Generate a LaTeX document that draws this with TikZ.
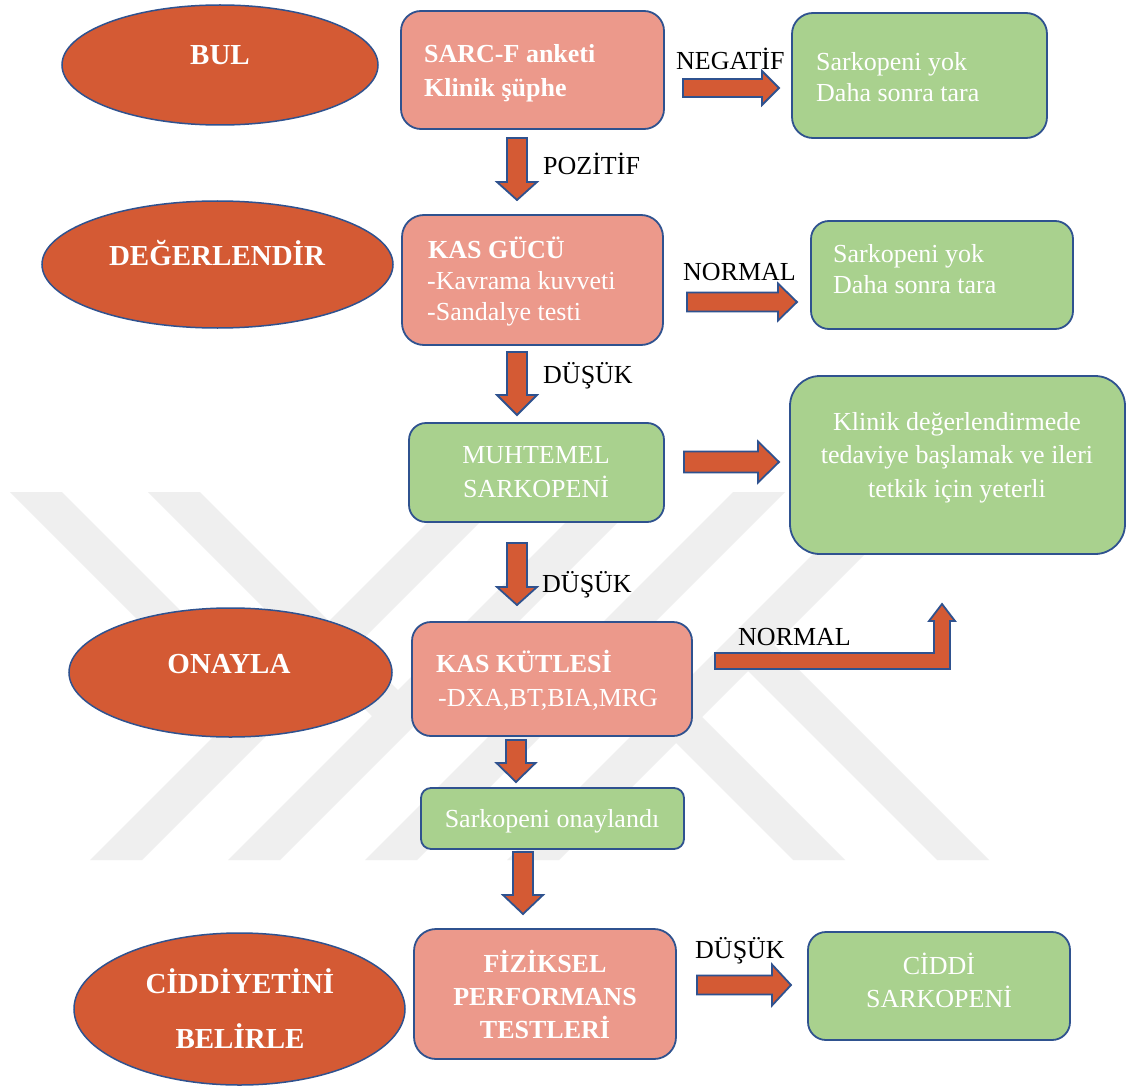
\documentclass[tikz,border=0pt]{standalone}
\usepackage{fontspec}
\setmainfont{Liberation Serif}
\usetikzlibrary{shapes.geometric}
\definecolor{orangec}{RGB}{212,90,52}
\definecolor{salmon}{RGB}{236,153,139}
\definecolor{greenc}{RGB}{169,209,142}
\definecolor{bordc}{RGB}{47,82,143}
\definecolor{wmgray}{RGB}{239,239,239}
\newcommand\darr[6]{% x, y start, y tip, half shaft, half head, head length
 \filldraw[barrow] (#1-#4,#2) -- (#1+#4,#2) -- (#1+#4,#3-#6) -- (#1+#5,#3-#6) -- (#1,#3) -- (#1-#5,#3-#6) -- (#1-#4,#3-#6) -- cycle;}
\newcommand\rarr[6]{% y, x start, x tip, half shaft, half head, head length
 \filldraw[barrow] (#2,#1-#4) -- (#3-#6,#1-#4) -- (#3-#6,#1-#5) -- (#3,#1) -- (#3-#6,#1+#5) -- (#3-#6,#1+#4) -- (#2,#1+#4) -- cycle;}
\tikzset{
 box/.style={draw=bordc, line width=1.8pt, inner sep=0pt},
 pinkbox/.style={box, fill=salmon},
 greenbox/.style={box, fill=greenc},
 ell/.style={ellipse, draw=bordc, line width=1.5pt, fill=orangec, inner sep=0pt},
 wt/.style={text=white, inner sep=0pt, font=\fontsize{26}{32}\selectfont},
 wtb/.style={text=white, inner sep=0pt, font=\fontsize{26}{32}\selectfont\bfseries},
 et/.style={text=white, inner sep=0pt, font=\fontsize{29}{35}\selectfont\bfseries},
 lbl/.style={text=black, inner sep=0pt, font=\fontsize{26}{32}\selectfont},
 barrow/.style={fill=orangec, draw=bordc, line width=1.8pt, line join=miter},
 wm/.style={fill=wmgray, draw=none}
}
\begin{document}
\begin{tikzpicture}[x=1pt,y=-1pt]
\useasboundingbox (0,0) rectangle (1129,1086);
\fill[white] (0,0) rectangle (1129,1086);
% watermark
\foreach \t in {458,596,733,875}{
  \fill[wm] (\t,492) -- (\t+52,492) -- (\t+52-368,860) -- (\t-368,860) -- cycle;}
\fill[wm] (10,492) -- (62,492) -- (273,703) -- (247,729) -- cycle;
\fill[wm] (148,492) -- (200,492) -- (411,703) -- (385,729) -- cycle;
\fill[wm] (793,860) -- (845,860) -- (617,632) -- (591,658) -- cycle;
\fill[wm] (937,860) -- (989,860) -- (761,632) -- (735,658) -- cycle;

% ellipses
\node[ell, minimum width=316, minimum height=120] (bul) at (220,65) {};
\node[ell, minimum width=351, minimum height=127] (deg) at (217.5,264.5) {};
\node[ell, minimum width=323, minimum height=129] (ona) at (230.5,672.5) {};
\node[ell, minimum width=331, minimum height=152] (cid) at (239.5,1009) {};
\node[et, anchor=base] (bult) at (220,65) {BUL};
\node[et, anchor=base] (degt) at (217,265) {DEĞERLENDİR};
\node[et, anchor=base] (onat) at (229,673) {ONAYLA};
\node[et, anchor=base] (cidt1) at (240,993) {CİDDİYETİNİ};
\node[et, anchor=base] (cidt2) at (240,1048) {BELİRLE};

% boxes
\node[pinkbox, rounded corners=20, minimum width=263, minimum height=118] (sarc) at (532.5,70) {};
\node[greenbox, rounded corners=21, minimum width=255, minimum height=125] (neg) at (919.5,75.5) {};
\node[pinkbox, rounded corners=22, minimum width=261, minimum height=130] (kasg) at (532.5,280) {};
\node[greenbox, rounded corners=18, minimum width=262, minimum height=108] (norm) at (942,275) {};
\node[greenbox, rounded corners=17, minimum width=255, minimum height=99] (muht) at (536.5,472.5) {};
\node[greenbox, rounded corners=30, minimum width=335, minimum height=178] (klin) at (957.5,465) {};
\node[pinkbox, rounded corners=19, minimum width=280, minimum height=114] (kask) at (552,679) {};
\node[greenbox, rounded corners=10, minimum width=263, minimum height=61] (onay) at (552.5,818.5) {};
\node[pinkbox, rounded corners=22, minimum width=262, minimum height=130] (fiz) at (545,994) {};
\node[greenbox, rounded corners=18, minimum width=262, minimum height=108] (ciddi) at (939,986) {};

% box texts
\node[wtb, anchor=base west] (sarc1) at (424,63) {SARC-F anketi};
\node[wtb, anchor=base west] (sarc2) at (424,97) {Klinik şüphe};
\node[wt, anchor=base west] (neg1) at (816,71) {Sarkopeni yok};
\node[wt, anchor=base west] (neg2) at (816,102) {Daha sonra tara};
\node[wtb, anchor=base west] (kasg1) at (428,258) {KAS GÜCÜ};
\node[wt, anchor=base west] (kasg2) at (427,289) {-Kavrama kuvveti};
\node[wt, anchor=base west] (kasg3) at (427,320) {-Sandalye testi};
\node[wt, anchor=base west] (norm1) at (833,262) {Sarkopeni yok};
\node[wt, anchor=base west] (norm2) at (833,293) {Daha sonra tara};
\node[wt, anchor=base] (muht1) at (536,463) {MUHTEMEL};
\node[wt, anchor=base] (muht2) at (536,497) {SARKOPENİ};
\node[wt, anchor=base] (klin1) at (957,430) {Klinik değerlendirmede};
\node[wt, anchor=base] (klin2) at (957,463.5) {tedaviye başlamak ve ileri};
\node[wt, anchor=base] (klin3) at (957,497) {tetkik için yeterli};
\node[wtb, anchor=base west] (kask1) at (436,672) {KAS KÜTLESİ};
\node[wt, anchor=base west] (kask2) at (438,706) {-DXA,BT,BIA,MRG};
\node[wt, anchor=base] (onay1) at (552,827) {Sarkopeni onaylandı};
\node[wtb, anchor=base] (fiz1) at (545,972) {FİZİKSEL};
\node[wtb, anchor=base] (fiz2) at (545,1005) {PERFORMANS};
\node[wtb, anchor=base] (fiz3) at (545,1038) {TESTLERİ};
\node[wt, anchor=base] (ciddi1) at (939,974) {CİDDİ};
\node[wt, anchor=base] (ciddi2) at (939,1007) {SARKOPENİ};

% arrows
\rarr{88}{683}{779}{9}{17}{17}
\darr{517}{138}{200}{10}{20}{18}
\rarr{302}{687}{797}{9.5}{18.5}{19}
\darr{517}{352}{415}{10}{20}{20}
\rarr{462}{684}{779}{10.5}{20.5}{21}
\darr{517}{543}{605}{10}{20}{18}
\filldraw[barrow] (715,653) -- (934,653) -- (934,621) -- (929,621) -- (942,604) -- (955,621) -- (950,621) -- (950,669) -- (715,669) -- cycle;
\darr{516}{740}{782}{10}{19.5}{19}
\darr{523}{852}{914}{10}{20}{19}
\rarr{985}{697}{791}{9.5}{20.5}{19}

% labels
\node[lbl, anchor=base west] (l1) at (676,70) {NEGATİF};
\node[lbl, anchor=base west] (l2) at (543,175) {POZİTİF};
\node[lbl, anchor=base west] (l3) at (683,280) {NORMAL};
\node[lbl, anchor=base west] (l4) at (543,383) {DÜŞÜK};
\node[lbl, anchor=base west] (l5) at (542,592) {DÜŞÜK};
\node[lbl, anchor=base west] (l6) at (738,645) {NORMAL};
\node[lbl, anchor=base west] (l7) at (695,958) {DÜŞÜK};
\end{tikzpicture}
\end{document}
